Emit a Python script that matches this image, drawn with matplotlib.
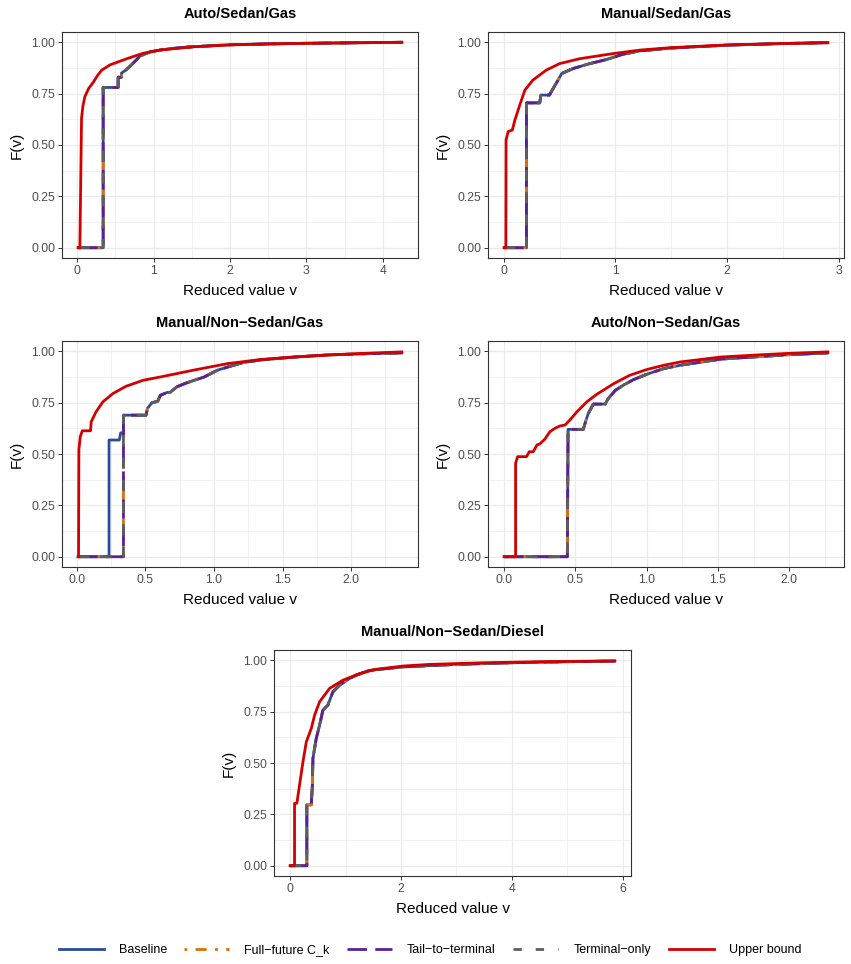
import matplotlib
matplotlib.use("Agg")
import matplotlib.pyplot as plt
from matplotlib.lines import Line2D

plt.rcParams['font.family'] = ['Liberation Sans', 'DejaVu Sans']

# panel titles and x ticks
titles = ["Auto/Sedan/Gas", "Manual/Sedan/Gas", "Manual/Non\u2212Sedan/Gas",
          "Auto/Non\u2212Sedan/Gas", "Manual/Non\u2212Sedan/Diesel"]
xticks = [[0, 1, 2, 3, 4], [0, 1, 2, 3], [0, 0.5, 1.0, 1.5, 2.0],
          [0, 0.5, 1.0, 1.5, 2.0], [0, 2, 4, 6]]
xticklabels = [["0", "1", "2", "3", "4"], ["0", "1", "2", "3"],
               ["0.0", "0.5", "1.0", "1.5", "2.0"], ["0.0", "0.5", "1.0", "1.5", "2.0"],
               ["0", "2", "4", "6"]]

# step-like CDF shared by Baseline / Full-future / Tail / Terminal, and upper bound
p1_v = [0.013, 0.34, 0.34, 0.536, 0.536, 0.58, 0.58, 0.645, 0.73, 0.82, 0.95, 1.1, 1.3, 1.5, 2.0, 2.5, 3.0, 3.5, 4.25]
p1_F = [0, 0, 0.78, 0.78, 0.83, 0.83, 0.85, 0.867, 0.897, 0.932, 0.953, 0.963, 0.972, 0.978, 0.988, 0.992, 0.995, 0.997, 1.0]
p1_ub_v = [0.013, 0.035, 0.057, 0.075, 0.10, 0.15, 0.21, 0.26, 0.32, 0.43, 0.65, 0.86, 1.08, 1.52, 2.0, 2.5, 3.0, 3.5, 4.25]
p1_ub_F = [0, 0, 0.63, 0.69, 0.735, 0.775, 0.805, 0.835, 0.864, 0.89, 0.92, 0.946, 0.962, 0.978, 0.987, 0.992, 0.995, 0.997, 1.0]

p2_v = [0.005, 0.204, 0.204, 0.323, 0.333, 0.41, 0.443, 0.47, 0.52, 0.62, 0.77, 0.92, 1.07, 1.22, 1.5, 2.0, 2.5, 2.9]
p2_F = [0, 0, 0.705, 0.705, 0.743, 0.743, 0.775, 0.80, 0.848, 0.872, 0.896, 0.916, 0.942, 0.958, 0.972, 0.986, 0.994, 0.998]
p2_ub_v = [0.005, 0.02, 0.022, 0.04, 0.078, 0.10, 0.144, 0.19, 0.26, 0.38, 0.50, 0.68, 0.98, 1.22, 1.5, 2.0, 2.5, 2.9]
p2_ub_F = [0, 0, 0.524, 0.565, 0.573, 0.62, 0.694, 0.767, 0.815, 0.864, 0.896, 0.92, 0.945, 0.962, 0.974, 0.987, 0.994, 0.998]

p3_v = [0.01, 0.34, 0.34, 0.505, 0.515, 0.547, 0.59, 0.61, 0.66, 0.68, 0.73, 0.80, 0.93, 1.025, 1.20, 1.34, 1.59, 1.83, 2.1, 2.37]
p3_F = [0, 0, 0.689, 0.689, 0.722, 0.749, 0.757, 0.786, 0.80, 0.80, 0.827, 0.846, 0.875, 0.908, 0.943, 0.958, 0.972, 0.982, 0.988, 0.992]
p3_base_head_v = [0.01, 0.235, 0.235, 0.31, 0.32, 0.34]
p3_base_head_F = [0, 0, 0.568, 0.568, 0.603, 0.603]
p3_ub_v = [0.01, 0.0125, 0.015, 0.025, 0.04, 0.10, 0.105, 0.14, 0.19, 0.265, 0.36, 0.485, 0.61, 0.85, 1.10, 1.34, 1.6, 1.83, 2.1, 2.37]
p3_ub_F = [0, 0, 0.52, 0.584, 0.613, 0.613, 0.657, 0.705, 0.754, 0.795, 0.83, 0.859, 0.875, 0.908, 0.94, 0.96, 0.973, 0.982, 0.99, 0.997]

p4_v = [0.0, 0.443, 0.448, 0.555, 0.574, 0.59, 0.625, 0.708, 0.73, 0.78, 0.836, 0.907, 1.0, 1.12, 1.235, 1.52, 1.99, 2.27]
p4_F = [0, 0, 0.62, 0.62, 0.665, 0.697, 0.743, 0.743, 0.77, 0.81, 0.835, 0.862, 0.888, 0.916, 0.932, 0.962, 0.983, 0.992]
p4_ub_v = [0.0, 0.08, 0.08, 0.094, 0.157, 0.176, 0.204, 0.23, 0.25, 0.286, 0.32, 0.356, 0.39, 0.427, 0.46, 0.51,
           0.58, 0.65, 0.77, 0.88, 1.0, 1.12, 1.235, 1.52, 1.8, 2.0, 2.27]
p4_ub_F = [0, 0, 0.455, 0.487, 0.487, 0.511, 0.511, 0.544, 0.549, 0.573, 0.608, 0.625, 0.636, 0.641, 0.665, 0.705,
           0.754, 0.791, 0.843, 0.883, 0.911, 0.932, 0.948, 0.972, 0.983, 0.99, 0.997]

p5_v = [0.0, 0.3, 0.3, 0.38, 0.40, 0.41, 0.47, 0.53, 0.59, 0.68, 0.77, 0.89, 1.07, 1.19, 1.43, 2.04, 3.0, 4.0, 5.0, 5.86]
p5_F = [0, 0, 0.296, 0.296, 0.393, 0.523, 0.62, 0.684, 0.757, 0.782, 0.846, 0.879, 0.911, 0.927, 0.951, 0.968, 0.98, 0.988, 0.993, 0.996]
p5_ub_v = [0.0, 0.078, 0.078, 0.12, 0.168, 0.23, 0.29, 0.38, 0.44, 0.53, 0.71, 0.95, 1.25, 1.55, 2.04, 2.52, 3.5, 4.5, 5.86]
p5_ub_F = [0, 0, 0.304, 0.304, 0.393, 0.506, 0.603, 0.668, 0.733, 0.798, 0.863, 0.903, 0.935, 0.956, 0.972, 0.98, 0.988, 0.993, 0.997]

series_names = ["Baseline", "Full\u2212future C_k", "Tail\u2212to\u2212terminal", "Terminal\u2212only", "Upper bound"]
colors = ["#2A4A9C", "#D9700A", "#5A2196", "#5E5E5E", "#D40000"]
styles = ["-", (0, (1, 3, 4, 3)), (0, (7, 3)), (0, (4, 4)), "-"]
legend_styles = ["-", (0, (1, 3, 4, 3)), (0, (7, 3)), (0, (3, 5)), "-"]

panels = [
    (p1_v, p1_F, p1_v, p1_F, p1_ub_v, p1_ub_F),
    (p2_v, p2_F, p2_v, p2_F, p2_ub_v, p2_ub_F),
    (p3_base_head_v + p3_v[2:], p3_base_head_F + p3_F[2:], p3_v, p3_F, p3_ub_v, p3_ub_F),
    (p4_v, p4_F, p4_v, p4_F, p4_ub_v, p4_ub_F),
    (p5_v, p5_F, p5_v, p5_F, p5_ub_v, p5_ub_F),
]

W, H = 851, 964
# panel boxes in pixels: left, right, top, bottom
boxes = [(62, 418, 32, 258), (488, 844, 32, 258), (62, 418, 341, 567),
         (488, 844, 341, 567), (274, 631, 650, 876)]

fig = plt.figure(figsize=(W / 100, H / 100), dpi=100)
lw = 2.0

for i, (bv, bF, sv, sF, uv, uF) in enumerate(panels):
    l, r, t, b = boxes[i]
    ax = fig.add_axes([l / W, 1 - b / H, (r - l) / W, (b - t) / H])
    ax.plot(bv, bF, color=colors[0], ls=styles[0], lw=lw)
    for k in (1, 2, 3):
        ax.plot(sv, sF, color=colors[k], ls=styles[k], lw=lw)
    ax.plot(uv, uF, color=colors[4], ls=styles[4], lw=lw)

    xt = xticks[i]
    step = xt[1] - xt[0]
    ax.set_xticks(xt)
    ax.set_xticklabels(xticklabels[i])
    ax.set_xticks([x + step / 2 for x in [xt[0] - step] + xt], minor=True)
    ax.set_yticks([0, 0.25, 0.5, 0.75, 1.0])
    ax.set_yticklabels(["0.00", "0.25", "0.50", "0.75", "1.00"])
    ax.set_yticks([0.125, 0.375, 0.625, 0.875], minor=True)

    # ggplot-style 5% expansion, set after ticks so ticks do not widen it
    lo = min(min(bv), min(sv), min(uv))
    hi = max(max(bv), max(sv), max(uv))
    pad = 0.05 * (hi - lo)
    ax.set_xlim(lo - pad, hi + pad)
    ax.set_ylim(-0.05, 1.05)

    ax.grid(which="major", color="#EBEBEB", lw=0.9)
    ax.grid(which="minor", color="#EBEBEB", lw=0.5)
    ax.set_axisbelow(True)
    ax.tick_params(which="major", length=3, width=0.7, color="#333333",
                   labelsize=8.8, labelcolor="#4D4D4D", pad=2)
    ax.tick_params(which="minor", length=0)
    for s in ax.spines.values():
        s.set_color("#333333")
        s.set_linewidth(0.8)

    ax.set_title(titles[i], fontsize=10.5, fontweight="bold", pad=10)
    ax.set_xlabel("Reduced value v", fontsize=11, labelpad=5)
    ax.set_ylabel("F(v)", fontsize=11, labelpad=5)

handles = [Line2D([0], [0], color=colors[k], ls=legend_styles[k], lw=lw) for k in range(5)]
fig.legend(handles, series_names, loc="center", bbox_to_anchor=(0.505, 1 - 950 / H),
           ncol=5, frameon=False, fontsize=9, handlelength=3.6, columnspacing=1.4,
           handletextpad=1.2)

fig.savefig("out.png", dpi=100)
